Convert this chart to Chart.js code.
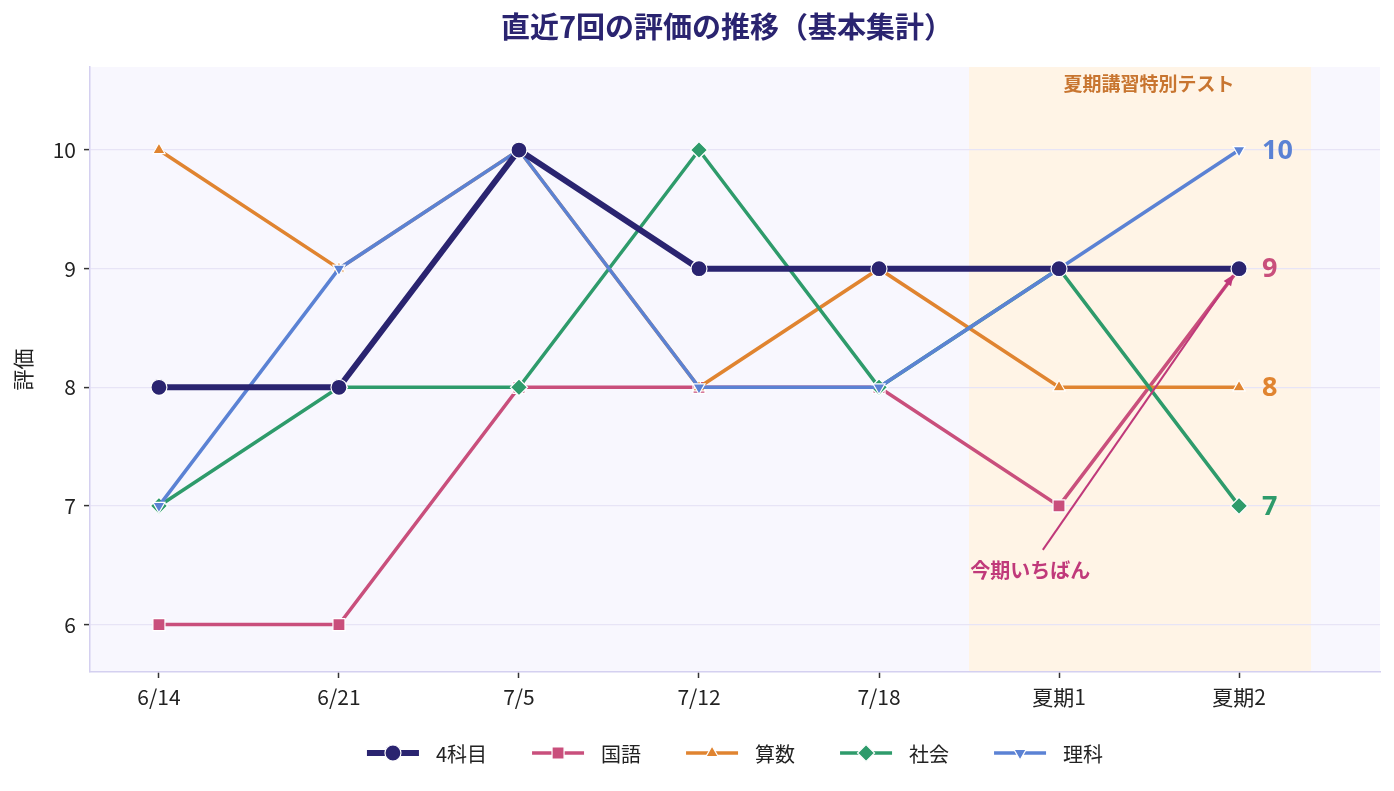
<!DOCTYPE html>
<html>
<head>
<meta charset="utf-8">
<script src="https://cdn.jsdelivr.net/npm/chart.js@4"></script>
<style>
  html, body { margin: 0; padding: 0; background: #fff; }
  #wrap { width: 1394px; height: 791px; }
</style>
</head>
<body>
<div id="wrap"><canvas id="chart" width="1394" height="791"></canvas></div>
<script>
var dates = ['6/14', '6/21', '7/5', '7/12', '7/18', '夏期1', '夏期2'];
var total4 = [8, 8, 10, 9, 9, 9, 9];
var kokugo = [6, 6, 8, 8, 8, 7, 9];
var sansu = [10, 9, 10, 8, 9, 8, 8];
var shakai = [7, 8, 8, 10, 8, 9, 7];
var rika = [7, 9, 10, 8, 8, 9, 10];
var yTicks = [6, 7, 8, 9, 10];

var JP = '"Noto Sans CJK JP", "Noto Sans", sans-serif';
var colors = {
    total: '#2a2470',
    kokugo: '#c94f7c',
    sansu: '#e08430',
    shakai: '#2e9b6b',
    rika: '#5b82d4'
};

function toPoints(arr) {
    return arr.map(function(v, i) { return {x: i, y: v}; });
}

function makeSet(label, arr, color, style, radius, width, order, rot) {
    return {
        label: label,
        data: toPoints(arr),
        borderColor: color,
        backgroundColor: color,
        pointBackgroundColor: color,
        pointBorderColor: '#ffffff',
        pointBorderWidth: 1.2,
        pointStyle: style,
        pointRadius: radius,
        pointRotation: rot || 0,
        borderWidth: width,
        tension: 0,
        fill: false,
        order: order
    };
}

var datasets = [
    makeSet('4科目', total4, colors.total, 'circle', 8, 6, 0),
    makeSet('国語', kokugo, colors.kokugo, 'rect', 8.5, 3.5, 4),
    makeSet('算数', sansu, colors.sansu, 'triangle', 7, 3.5, 3),
    makeSet('社会', shakai, colors.shakai, 'rectRot', 8.5, 3.5, 2),
    makeSet('理科', rika, colors.rika, 'triangle', 7, 3.5, 1, 180)
];

// end labels: which series gets a number at the last point
var endLabels = [
    {set: 4, color: colors.rika},
    {set: 1, color: colors.kokugo},
    {set: 2, color: colors.sansu},
    {set: 3, color: colors.shakai}
];

function drawMarker(ctx, style, x, y, r, rot, color) {
    ctx.save();
    ctx.fillStyle = color;
    ctx.strokeStyle = '#fff';
    ctx.lineWidth = 1.2;
    if (Chart.helpers && Chart.helpers.drawPoint) {
        Chart.helpers.drawPoint(ctx, {pointStyle: style, radius: r, rotation: rot, borderWidth: 1.2}, x, y);
    } else {
        ctx.beginPath();
        ctx.arc(x, y, r, 0, Math.PI * 2);
        ctx.fill();
        ctx.stroke();
    }
    ctx.restore();
}

var decorPlugin = {
    id: 'decor',
    beforeDraw: function(chart) {
        var ctx = chart.ctx;
        var a = chart.chartArea;
        var xs = chart.scales.x;
        ctx.save();
        ctx.fillStyle = '#f8f7fe';
        ctx.fillRect(a.left, a.top, a.right - a.left, a.bottom - a.top);
        // summer test band
        var b0 = xs.getPixelForValue(4.5);
        var b1 = xs.getPixelForValue(6.4);
        ctx.fillStyle = '#fff4e6';
        ctx.fillRect(b0, a.top, b1 - b0, a.bottom - a.top);
        ctx.restore();
    },
    afterDraw: function(chart) {
        var ctx = chart.ctx;
        var a = chart.chartArea;
        var xs = chart.scales.x;
        var ys = chart.scales.y;
        ctx.save();

        // title
        ctx.fillStyle = '#2a2470';
        ctx.font = 'bold 29px ' + JP;
        ctx.textAlign = 'center';
        ctx.textBaseline = 'middle';
        ctx.fillText('直近7回の評価の推移（基本集計）', 727, 27);

        // band caption
        ctx.fillStyle = '#c87530';
        ctx.font = 'bold 19px ' + JP;
        ctx.fillText('夏期講習特別テスト', xs.getPixelForValue(5.5), a.top + 17);

        // end-of-line numbers
        var last = dates.length - 1;
        ctx.font = 'bold 27px "Noto Sans", sans-serif';
        ctx.textAlign = 'left';
        endLabels.forEach(function(e) {
            var v = datasets[e.set].data[last].y;
            ctx.fillStyle = e.color;
            ctx.fillText(String(v), xs.getPixelForValue(last) + 23, ys.getPixelForValue(v) + 1);
        });

        // arrow annotation
        var tx = xs.getPixelForValue(4.91), ty = ys.getPixelForValue(6.63);
        var hx = xs.getPixelForValue(5.97), hy = ys.getPixelForValue(8.95);
        ctx.strokeStyle = '#c0397a';
        ctx.fillStyle = '#c0397a';
        ctx.lineWidth = 2;
        var ang = Math.atan2(hy - ty, hx - tx);
        ctx.beginPath();
        ctx.moveTo(tx, ty);
        ctx.lineTo(hx - 8 * Math.cos(ang), hy - 8 * Math.sin(ang));
        ctx.stroke();
        ctx.beginPath();
        ctx.moveTo(hx, hy);
        ctx.lineTo(hx - 11 * Math.cos(ang) + 4.5 * Math.sin(ang), hy - 11 * Math.sin(ang) - 4.5 * Math.cos(ang));
        ctx.lineTo(hx - 11 * Math.cos(ang) - 4.5 * Math.sin(ang), hy - 11 * Math.sin(ang) + 4.5 * Math.cos(ang));
        ctx.closePath();
        ctx.fill();
        ctx.font = 'bold 20px ' + JP;
        ctx.textAlign = 'center';
        ctx.fillText('今期いちばん', xs.getPixelForValue(4.84), ys.getPixelForValue(6.46));

        // legend (line + marker)
        ctx.font = '20px ' + JP;
        ctx.textAlign = 'left';
        var lineW = 52, gap = 17, sep = 45;
        var total = 0;
        datasets.forEach(function(d, i) {
            total += lineW + gap + ctx.measureText(d.label).width + (i < datasets.length - 1 ? sep : 0);
        });
        var x = (a.left + a.right) / 2 - total / 2;
        var ly = 753;
        datasets.forEach(function(d) {
            ctx.strokeStyle = d.borderColor;
            ctx.lineWidth = d.borderWidth;
            ctx.beginPath();
            ctx.moveTo(x, ly);
            ctx.lineTo(x + lineW, ly);
            ctx.stroke();
            drawMarker(ctx, d.pointStyle, x + lineW / 2, ly, d.pointRadius, d.pointRotation, d.borderColor);
            ctx.fillStyle = '#222';
            ctx.fillText(d.label, x + lineW + gap, ly + 1);
            x += lineW + gap + ctx.measureText(d.label).width + sep;
        });
        ctx.restore();
    }
};

new Chart(document.getElementById('chart').getContext('2d'), {
    type: 'line',
    data: {datasets: datasets},
    plugins: [decorPlugin],
    options: {
        responsive: false,
        animation: false,
        layout: {padding: {top: 67, right: 14, bottom: 69, left: 0}},
        plugins: {
            legend: {display: false},
            title: {display: false},
            tooltip: {enabled: false}
        },
        scales: {
            x: {
                type: 'linear',
                min: -0.383,
                max: 6.783,
                afterFit: function(s) { s.height = 50; },
                afterBuildTicks: function(s) {
                    s.ticks = dates.map(function(d, i) { return {value: i}; });
                },
                ticks: {
                    color: '#222',
                    font: {size: 21, family: JP},
                    padding: 6,
                    callback: function(v) { return dates[v]; }
                },
                grid: {drawOnChartArea: false, tickLength: 6, tickColor: '#333', tickWidth: 1.5},
                border: {color: '#d4d0f0', width: 1.5}
            },
            y: {
                min: 5.6,
                max: 10.7,
                afterFit: function(s) { s.width = 90; },
                afterBuildTicks: function(s) {
                    s.ticks = yTicks.map(function(v) { return {value: v}; });
                },
                ticks: {
                    color: '#222',
                    font: {size: 21, family: JP},
                    padding: 8
                },
                title: {
                    display: true,
                    text: '評価',
                    color: '#222',
                    font: {size: 21, family: JP},
                    padding: {top: 10, bottom: 4}
                },
                grid: {color: '#e7e4f6', lineWidth: 1.2, tickLength: 6, tickColor: '#333', tickWidth: 1.5},
                border: {color: '#d4d0f0', width: 1.5}
            }
        }
    }
});
</script>
</body>
</html>
